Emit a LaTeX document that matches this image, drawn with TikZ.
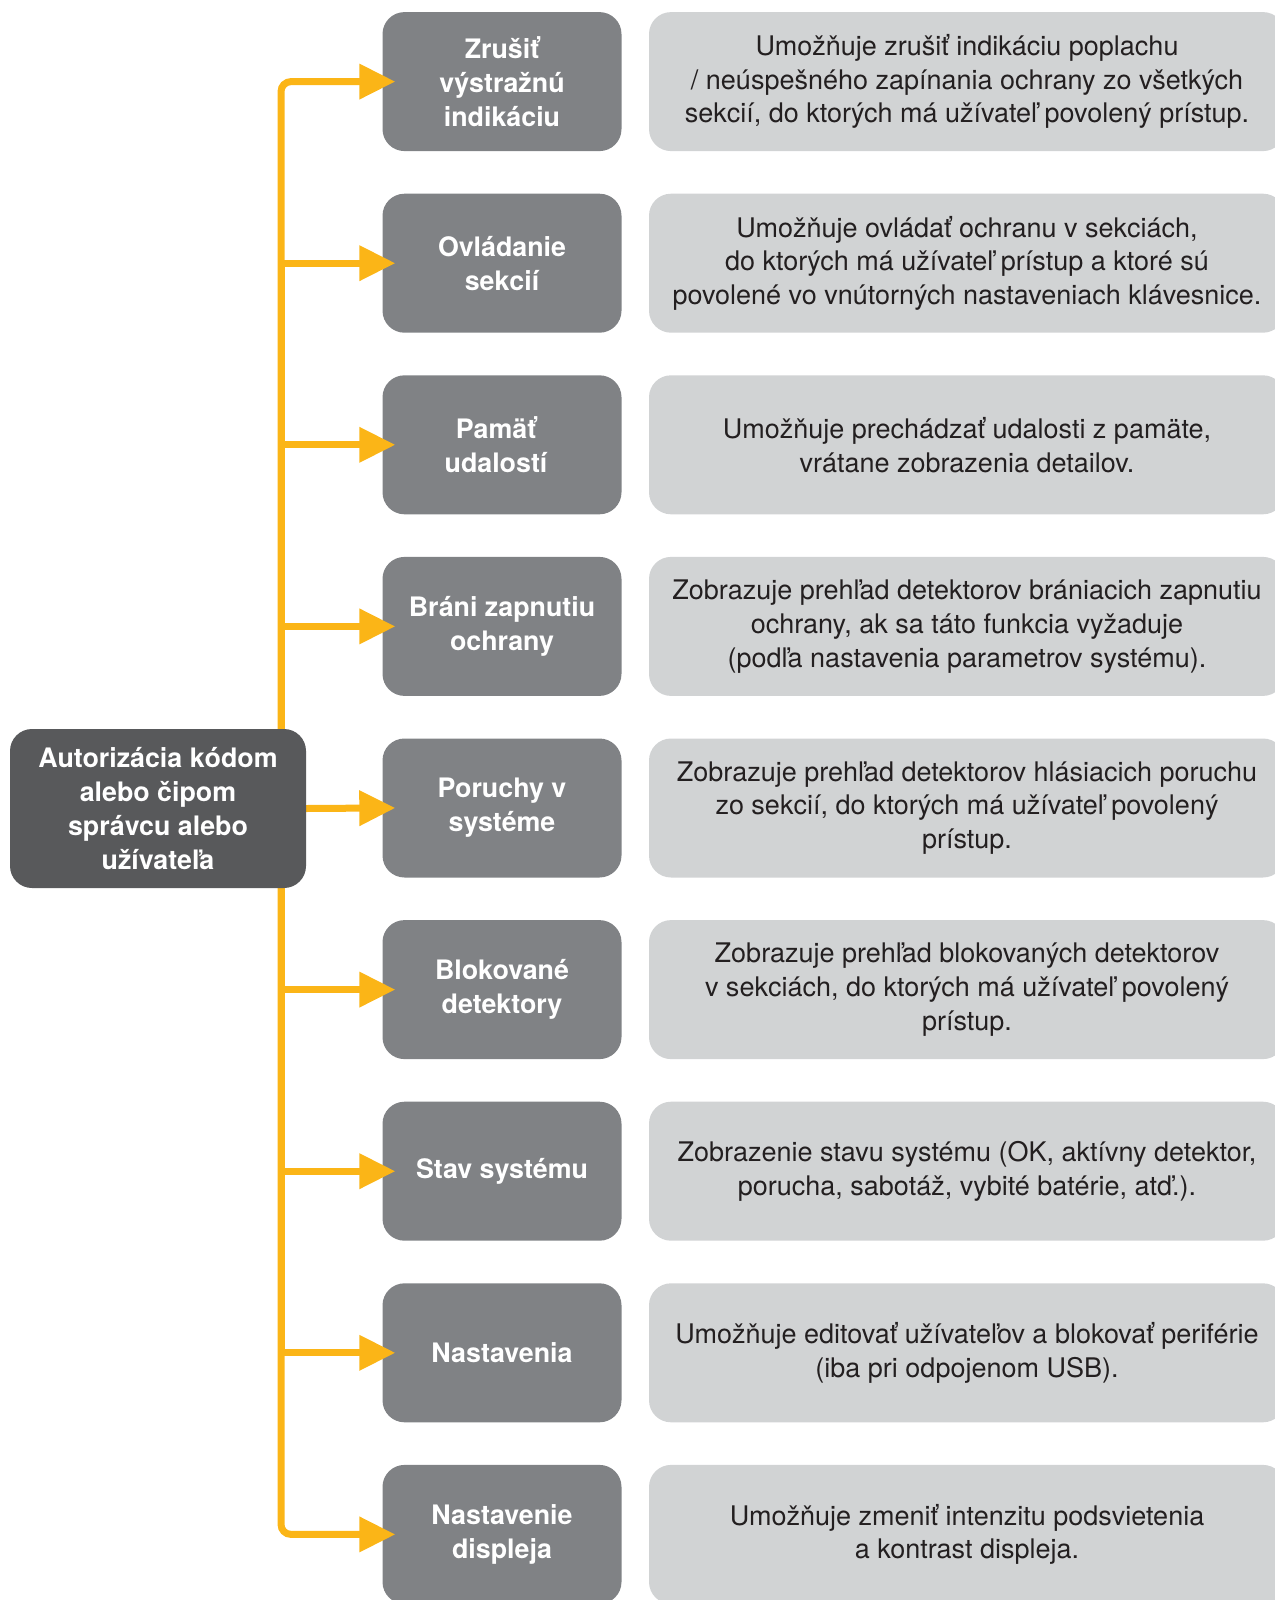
\documentclass[tikz,border=0pt]{standalone}
\usepackage{fontspec}
\setmainfont{TeX Gyre Heros}
\usetikzlibrary{arrows.meta}
\definecolor{arrowyellow}{HTML}{FBB517}
\definecolor{menugray}{HTML}{808285}
\definecolor{authgray}{HTML}{58595B}
\definecolor{infogray}{HTML}{D1D3D4}
\definecolor{infotext}{HTML}{231F20}
\pgfdeclarelayer{front}
\pgfsetlayers{main,front}

\tikzset{
  menubox/.style={fill=menugray, rounded corners=22pt, minimum width=239pt,
    minimum height=139pt, inner sep=0pt, align=center, text=white,
    font=\fontsize{26.8}{33.7}\selectfont\bfseries},
  infobox/.style={fill=infogray, rounded corners=22pt, minimum width=636pt,
    minimum height=139pt, inner sep=0pt, align=center, text=infotext,
    font=\fontsize{27}{33.7}\selectfont},
  authbox/.style={fill=authgray, rounded corners=22pt, minimum width=296pt,
    minimum height=159pt, inner sep=0pt, align=center, text=white,
    font=\fontsize{26.8}{33.7}\selectfont\bfseries},
  link/.style={draw=arrowyellow, line width=7pt,
    -{Triangle[length=36pt,width=34pt]}, shorten >=-13pt}
}

\begin{document}
\begin{tikzpicture}[x=1pt,y=-1pt]
\useasboundingbox (0,0) rectangle (1274,1600);

% menu items
\node[menubox] (zrusit) at (502,81.6) {Zrušiť\\výstražnú\\indikáciu};
\node[menubox] (ovladanie) at (502,263.2) {Ovládanie\\sekcií};
\node[menubox] (pamat) at (502,444.8) {\hspace*{-12pt}Pamäť\\\hspace*{-12pt}udalostí};
\node[menubox] (brani) at (502,626.4) {Bráni zapnutiu\\ochrany};
\node[menubox] (poruchy) at (502,808) {Poruchy v\\systéme};
\node[menubox] (blokovane) at (502,989.6) {Blokované\\detektory};
\node[menubox] (stav) at (502,1171.2) {Stav systému};
\node[menubox] (nastavenia) at (502,1352.8) {Nastavenia};
\node[menubox] (displej) at (502,1534.4) {Nastavenie\\displeja};

% descriptions
\node[infobox] (zrusitinfo) at (967,81.6) {Umožňuje zrušiť indikáciu poplachu\\/ neúspešného zapínania ochrany zo všetkých\\sekcií, do ktorých má užívateľ povolený prístup.};
\node[infobox] (ovladanieinfo) at (967,263.2) {Umožňuje ovládať ochranu v sekciách,\\do ktorých má užívateľ prístup a ktoré sú\\povolené vo vnútorných nastaveniach klávesnice.};
\node[infobox] (pamatinfo) at (967,444.8) {Umožňuje prechádzať udalosti z pamäte,\\vrátane zobrazenia detailov.};
\node[infobox] (braniinfo) at (967,626.4) {Zobrazuje prehľad detektorov brániacich zapnutiu\\ochrany, ak sa táto funkcia vyžaduje\\(podľa nastavenia parametrov systému).};
\node[infobox] (poruchyinfo) at (967,808) {Zobrazuje prehľad detektorov hlásiacich poruchu\\zo sekcií, do ktorých má užívateľ povolený\\prístup.};
\node[infobox] (blokovaneinfo) at (967,989.6) {Zobrazuje prehľad blokovaných detektorov\\v sekciách, do ktorých má užívateľ povolený\\prístup.};
\node[infobox] (stavinfo) at (967,1171.2) {Zobrazenie stavu systému (OK, aktívny detektor,\\porucha, sabotáž, vybité batérie, atď.).};
\node[infobox] (nastaveniainfo) at (967,1352.8) {Umožňuje editovať užívateľov a blokovať periférie\\(iba pri odpojenom USB).};
\node[infobox] (displejinfo) at (967,1534.4) {Umožňuje zmeniť intenzitu podsvietenia\\a kontrast displeja.};

% start box, above the trunk
\begin{pgfonlayer}{front}
\node[authbox] (auth) at (158,808.5) {Autorizácia kódom\\alebo čipom\\správcu alebo\\užívateľa};
\end{pgfonlayer}
\coordinate (trunk) at (281,808);

% arrows
\draw[link, rounded corners=10pt] (trunk) |- (zrusit.west);
\draw[link] (trunk) |- (ovladanie.west);
\draw[link] (trunk) |- (pamat.west);
\draw[link] (trunk) |- (brani.west);
\draw[link] (auth.east) -- (poruchy.west);
\draw[link] (trunk) |- (blokovane.west);
\draw[link] (trunk) |- (stav.west);
\draw[link] (trunk) |- (nastavenia.west);
\draw[link, rounded corners=10pt] (trunk) |- (displej.west);
\end{tikzpicture}
\end{document}
